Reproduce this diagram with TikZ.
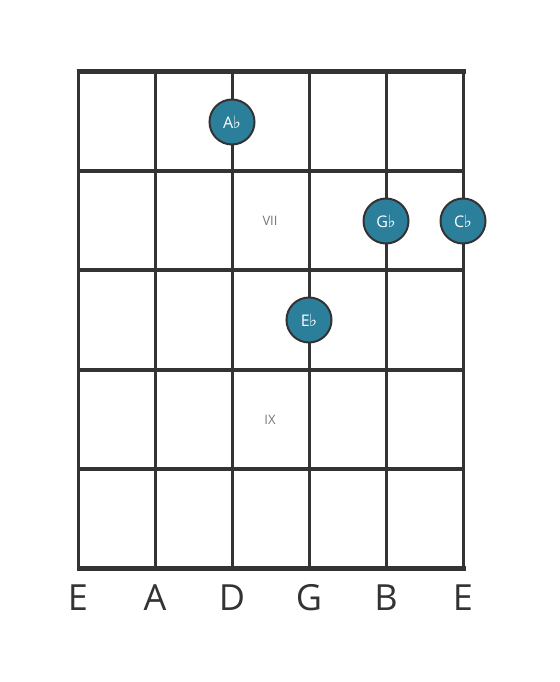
\documentclass[tikz,border=0pt]{standalone}
\usepackage{fontspec}
\setmainfont{Open Sans}
\newfontfamily\symfont{DejaVu Sans}
\definecolor{ink}{HTML}{333333}
\definecolor{dotfill}{HTML}{2B7F9B}
\definecolor{fretlbl}{HTML}{777777}
\newcommand{\flatsym}{\kern-0.5pt{\symfont\fontsize{17}{17}\selectfont ♭}}
\begin{document}
\begin{tikzpicture}[x=1pt,y=-1pt,
  strline/.style={draw=ink,line width=3pt},
  fretline/.style={draw=ink,line width=4pt},
  nutline/.style={draw=ink,line width=5pt},
  notedot/.style={circle,draw=ink,line width=2pt,fill=dotfill,minimum size=45pt,inner sep=0pt,text=white,font=\fontsize{16}{16}\selectfont},
  strname/.style={text=ink,font=\fontsize{36}{36}\selectfont,inner sep=0pt},
  fretnum/.style={text=fretlbl,font=\fontsize{13}{13}\selectfont,inner sep=0pt}]
\useasboundingbox (0,0) rectangle (559,682);
\foreach \x in {78,155,232,309,386,463} \draw[strline] (\x,72) -- (\x,568);
\foreach \y in {171,270,370,469} \draw[fretline] (76.5,\y) -- (464.5,\y);
\draw[nutline] (76.5,72) -- (465.5,72);
\draw[nutline] (76.5,568) -- (465.5,568);
\node[fretnum] (f7) at (270,221) {VII};
\node[fretnum] (f9) at (270,420) {IX};
\node[notedot] (ab) at (232,122) {A\flatsym};
\node[notedot] (gb) at (386,221) {G\flatsym};
\node[notedot] (cb) at (463,221) {C\flatsym};
\node[notedot] (eb) at (309,320) {E\flatsym};
\node[strname] (s1) at (78,598) {E};
\node[strname] (s2) at (155,598) {A};
\node[strname] (s3) at (232,598) {D};
\node[strname] (s4) at (309,598) {G};
\node[strname] (s5) at (386,598) {B};
\node[strname] (s6) at (463,598) {E};
\end{tikzpicture}
\end{document}
